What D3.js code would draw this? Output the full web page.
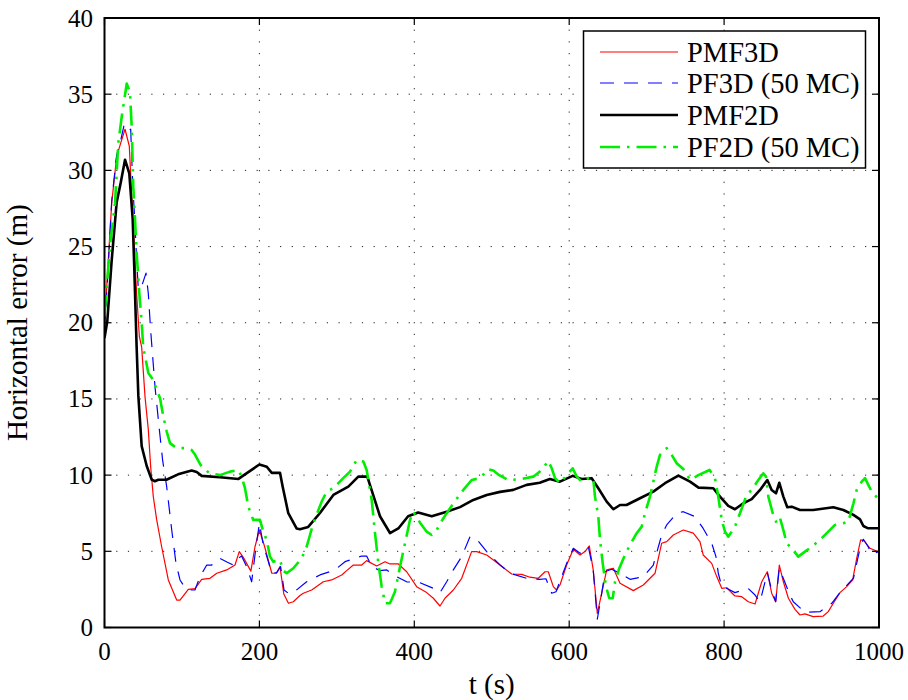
<!DOCTYPE html>
<html>
<head>
<meta charset="utf-8">
<script src="https://cdn.jsdelivr.net/npm/d3@7"></script>
<style>
  html, body { margin: 0; padding: 0; background: #fff; }
  svg { display: block; }
</style>
</head>
<body>
<svg id="chart" width="908" height="700" font-family="'Liberation Serif', 'DejaVu Serif', serif"></svg>
<script>
// ---------- data ----------
const xTicks = [0, 200, 400, 600, 800, 1000];
const yTicks = [0, 5, 10, 15, 20, 25, 30, 35, 40];
const xLabel = "t (s)";
const yLabel = "Horizontal error (m)";
const seriesNames = ["PMF3D", "PF3D (50 MC)", "PMF2D", "PF2D (50 MC)"];

const pmf3d = [[0,19.8],[3.6,23.0],[9.3,27.85],[15.7,30.9],[21,31.8],[26.5,32.7],[32,31.6],[35,28.5],[37.2,26.3],[41.5,21.9],[45,19.1],[48,18.4],[52.3,15.15],[56.6,12.97],[59.6,10.56],[63,8.59],[67.4,7.06],[73.8,5.3],[82.4,3.12],[93.2,1.8],[97.5,1.8],[108.2,2.5],[116.8,2.55],[125.5,3.16],[136.2,3.23],[145,3.56],[157.8,3.78],[168.5,4.1],[174,4.98],[179.2,4.6],[189,3.7],[194.3,5.3],[200,6.4],[206.5,5.35],[216,3.56],[222,3.56],[226.6,4.0],[231.5,2.2],[237.5,1.59],[243.8,1.69],[252.4,2.1],[256.7,2.25],[267.5,2.46],[282.5,3.0],[293.3,3.12],[306.3,3.45],[312.7,3.73],[321.3,4.1],[332,4.1],[338.5,4.39],[351.4,4.04],[362.2,4.32],[368.6,4.17],[379.4,4.17],[390.2,3.66],[403,2.68],[416,2.29],[424.6,1.92],[433.2,1.41],[439.6,1.92],[450.4,2.46],[461.2,3.23],[474,4.98],[480.6,4.98],[493.5,4.76],[510.7,4.1],[525.7,3.51],[538.7,3.49],[549.3,3.3],[560,3.23],[568.8,3.66],[573,3.66],[579.5,2.68],[583.8,2.46],[588.1,2.79],[596.7,4.1],[605.3,5.13],[614,4.76],[620.4,4.98],[626,5.35],[631,3.78],[636.3,0.93],[642,2.25],[648.4,3.78],[657,3.89],[665.6,2.9],[682.8,2.42],[695.7,2.79],[710.8,3.56],[719.4,5.53],[725.9,5.64],[734.4,6.07],[747.3,6.4],[760.2,6.19],[768.8,5.64],[773,4.76],[784,4.21],[790.5,3.34],[797,2.57],[803.4,2.61],[814,2.07],[822.7,2.02],[831.3,1.69],[840,1.54],[848.6,3.0],[855.8,3.66],[861.4,2.25],[866.6,1.69],[871.3,4.1],[876.5,3.0],[883,1.92],[891.5,1.19],[898,0.82],[904.4,0.89],[915,0.71],[928,0.75],[934.5,1.04],[941,1.59],[949.6,2.29],[958.3,2.68],[966,3.12],[971.2,4.54],[976.3,5.75],[980.6,5.7],[988.4,5.2],[1000,4.95]];

const pf3d = [[0,19.5],[3.6,22.5],[9.3,28],[15.7,31],[21,32],[25,32.9],[29,32.5],[33.8,32.7],[36.5,29],[39.4,26.5],[41.5,24.1],[43.7,22.2],[48,22.4],[53.6,23.26],[56.6,21.9],[59.6,19.5],[65.2,15.8],[70.8,13],[75,11.0],[80.3,9.24],[86.8,6.4],[92.3,4.21],[97.5,3.12],[104,2.6],[112.5,2.46],[116.8,2.46],[123.3,3.34],[132,4.1],[138.4,4.1],[145,4.43],[149,4.54],[158,4.3],[166.3,4.1],[172.8,4.54],[177,4.69],[183.6,3.99],[190,3.0],[195.6,5.3],[200,6.84],[205,5.42],[209.4,4.69],[216,3.56],[222.3,3.6],[227.4,4.0],[231.8,2.46],[238.6,2.2],[243.8,2.29],[261,3.0],[278.2,3.45],[297.6,3.78],[310.5,4.32],[332,4.69],[338.5,4.69],[345,4.0],[355.7,3.73],[364.4,3.78],[372.9,3.45],[390.2,3.0],[407.4,2.94],[424.6,2.57],[433.2,2.29],[441.8,3.0],[450.4,3.78],[461.2,4.65],[471.9,5.96],[480.6,5.79],[493.5,4.98],[510.7,4.1],[523.6,3.56],[545,3.23],[562,3.16],[570,3.2],[577.4,2.25],[583,2.35],[596.7,4.21],[605.3,5.2],[614,4.87],[624.7,5.3],[631,3.78],[636.3,0.54],[642,2.25],[646.2,3.66],[654.8,3.82],[665.6,3.56],[678.5,3.16],[695.7,3.34],[708.6,4.1],[719.4,6.07],[725.9,6.73],[738.8,7.5],[747.3,7.6],[762.4,7.28],[773,6.5],[784,5.53],[789.5,4.65],[792.5,3.56],[797,2.68],[803.4,2.57],[814,2.29],[831,2.57],[840,2.13],[846.4,1.69],[855.8,3.6],[861.4,2.46],[866.6,1.69],[871.3,3.89],[877.3,3.12],[885,2.13],[889.3,1.69],[904.4,1.0],[923.8,1.04],[939,1.59],[949.6,2.29],[967,3.23],[975.5,5.2],[979.8,5.79],[986,5.3],[990.6,4.82],[1000,4.98]];

const pmf2d = [[0,19.0],[3.6,20.1],[9.3,24.1],[15.7,27.9],[21,29.2],[26.5,30.7],[32,29.8],[36.4,26.8],[38.5,23.5],[41.5,18.4],[43.7,15.2],[48,11.9],[54.5,10.6],[61,9.7],[65,9.6],[69.5,9.7],[80,9.7],[95,10.05],[112.5,10.3],[119,10.2],[125.5,9.95],[149,9.86],[173,9.75],[180,10.0],[200,10.7],[209.5,10.55],[216,10.15],[226.6,10.15],[230,9.25],[237.3,7.5],[248,6.5],[252.4,6.45],[263,6.6],[278,7.5],[295.5,8.7],[314.8,9.25],[327.7,9.9],[339.3,9.9],[345,9.0],[355.7,7.3],[368.6,6.2],[379.4,6.5],[392,7.3],[405,7.55],[422.5,7.3],[441.8,7.6],[459,7.9],[476.2,8.37],[493.5,8.7],[510.7,8.9],[527.8,9.03],[545,9.36],[562,9.5],[575,9.75],[588,9.57],[604.5,9.95],[616,9.75],[629,9.8],[637.6,9.14],[648.4,8.26],[657,7.76],[665.6,8.04],[674,8.04],[691.4,8.48],[708.6,8.92],[723.7,9.47],[741,9.97],[756,9.57],[767,9.18],[786,9.14],[794.7,8.59],[805.4,7.98],[814,7.76],[824.8,8.15],[835.6,8.42],[846.4,9.03],[855.8,9.68],[861.4,9.03],[867,8.81],[871.3,9.5],[876.5,8.59],[881.6,7.89],[887.3,7.93],[898,7.71],[915,7.71],[941,7.89],[954,7.71],[967,7.39],[975.5,7.1],[979.8,6.66],[986,6.51],[1000,6.51]];

const pf2d = [[0,20.5],[7,25],[13.6,27.85],[17.8,31.8],[22.2,33.5],[28.7,35.7],[32.9,35.1],[35.1,32.9],[37.2,28.9],[39.4,26.8],[41.5,24.6],[45,21.9],[48,20.0],[50,18.4],[56.6,16.7],[63,16.25],[67.4,15.6],[71.7,15.05],[76,13.84],[80.3,12.86],[84.6,12.1],[93.2,11.77],[106,11.77],[112.5,11.65],[116.8,11.35],[124,10.67],[135,10.14],[149,10.0],[162,10.23],[172.8,10.34],[177,9.9],[181.4,9.14],[185.7,7.93],[192,7.06],[200.8,7.06],[205,6.29],[209.4,5.75],[213.7,4.65],[218,4.32],[226.6,4.43],[230.9,3.73],[235.2,3.56],[243.8,3.89],[254.6,4.54],[261,5.3],[269.6,6.84],[280.4,8.26],[286.9,8.92],[295.4,9.14],[308.3,9.8],[317,10.23],[325.6,11.0],[334.2,10.89],[338.5,10.34],[345,8.37],[349.3,6.19],[353.6,4.21],[357.9,2.68],[362.2,1.59],[368.6,1.59],[375,2.35],[381.6,4.0],[388,5.53],[394.4,7.06],[398.7,7.6],[407.4,6.88],[416,6.29],[422.5,6.07],[428.9,6.4],[437.5,7.17],[450.4,8.15],[463.3,9.03],[474.1,9.68],[484.8,9.8],[495.6,10.39],[502,10.3],[508.5,10.04],[521.4,9.68],[536.5,9.73],[553.7,9.9],[564.5,10.34],[573,10.93],[577.4,10.45],[581.7,9.8],[588.1,9.47],[596.7,10.0],[604.5,10.45],[609.7,9.9],[616.1,9.57],[624.7,9.8],[631,9.8],[633.3,8.59],[637.6,7.28],[639.8,5.75],[643.3,4.21],[647.5,2.68],[651.8,1.92],[656.2,1.92],[659.2,3.0],[664.7,3.89],[672,4.76],[678.5,5.42],[687.1,6.19],[693.6,6.62],[697.9,7.5],[704.3,8.59],[708.6,9.57],[713,10.56],[717.2,11.33],[725.9,11.77],[732.3,11.33],[738.8,10.78],[747.3,10.4],[756,9.7],[760.2,9.8],[766.7,10.0],[781.3,10.34],[788.2,9.8],[792.5,8.59],[796.9,7.06],[801.2,6.29],[805.4,5.96],[814,6.62],[820.5,7.5],[829.2,8.7],[835.6,9.03],[844.2,9.68],[850.6,10.12],[854.1,9.9],[857.1,8.59],[862.8,7.5],[868,6.84],[872.2,7.17],[876.5,6.4],[880.8,5.53],[887.3,5.2],[895.8,4.65],[904.4,4.98],[913.1,5.3],[923.8,5.75],[934.5,6.29],[943.2,6.73],[954,6.84],[960.4,6.95],[967,8.15],[971.2,9.03],[977.7,9.57],[982,9.8],[986.2,9.36],[990.6,8.92],[1000,8.4]];

// ---------- layout ----------
const FONT = "'Liberation Serif', 'DejaVu Serif', serif";
const svg = d3.select("#chart");
const L = 104.5, R = 879, T = 18, B = 627.5;
const x = d3.scaleLinear().domain([0, 1000]).range([L, R]);
const y = d3.scaleLinear().domain([0, 40]).range([B, T]);

svg.append("defs").append("clipPath").attr("id", "clip")
  .append("rect").attr("x", L).attr("y", T).attr("width", R - L).attr("height", B - T);

// grid
const grid = svg.append("g");
xTicks.filter(d => d > 0 && d < 1000).forEach(d => {
  grid.append("line").attr("x1", x(d)).attr("x2", x(d)).attr("y1", B).attr("y2", T)
    .attr("stroke", "#222").attr("stroke-width", 1).attr("stroke-dasharray", "1.2,10.5");
});
yTicks.filter(d => d > 0 && d < 40).forEach(d => {
  grid.append("line").attr("x1", L).attr("x2", R).attr("y1", y(d)).attr("y2", y(d))
    .attr("stroke", "#222").attr("stroke-width", 1).attr("stroke-dasharray", "1.2,10.5");
});

// series
const line = d3.line().x(d => x(d[0])).y(d => y(d[1]));
const plot = svg.append("g").attr("clip-path", "url(#clip)");
const styles = [
  { data: pmf3d, color: "#ff0000", width: 1.2, dash: null },
  { data: pf3d,  color: "#0000ff", width: 1.2, dash: "14,10" },
  { data: pmf2d, color: "#000000", width: 2.6, dash: null },
  { data: pf2d,  color: "#00ee00", width: 2.6, dash: "20,7,2.5,7" }
];
styles.forEach(s => {
  plot.append("path").datum(s.data).attr("d", line)
    .attr("fill", "none").attr("stroke", s.color).attr("stroke-width", s.width)
    .attr("stroke-linejoin", "round")
    .attr("stroke-dasharray", s.dash);
});

// axes frame + ticks
const axes = svg.append("g");
const tickLen = 7;
xTicks.forEach(d => {
  axes.append("line").attr("x1", x(d)).attr("x2", x(d)).attr("y1", B).attr("y2", B - tickLen).attr("stroke", "#000").attr("stroke-width", 1.2);
  axes.append("line").attr("x1", x(d)).attr("x2", x(d)).attr("y1", T).attr("y2", T + tickLen).attr("stroke", "#000").attr("stroke-width", 1.2);
  axes.append("text").attr("x", x(d)).attr("y", 660).attr("text-anchor", "middle")
    .attr("font-family", FONT).attr("font-size", 25).text(d);
});
yTicks.forEach(d => {
  axes.append("line").attr("x1", L).attr("x2", L + tickLen).attr("y1", y(d)).attr("y2", y(d)).attr("stroke", "#000").attr("stroke-width", 1.2);
  axes.append("line").attr("x1", R).attr("x2", R - tickLen).attr("y1", y(d)).attr("y2", y(d)).attr("stroke", "#000").attr("stroke-width", 1.2);
  axes.append("text").attr("x", 93).attr("y", y(d)).attr("dy", "0.34em").attr("text-anchor", "end")
    .attr("font-family", FONT).attr("font-size", 25).text(d);
});
axes.append("rect").attr("x", L).attr("y", T).attr("width", R - L).attr("height", B - T)
  .attr("fill", "none").attr("stroke", "#000").attr("stroke-width", 2);

// axis labels
svg.append("text").attr("x", (L + R) / 2).attr("y", 694).attr("text-anchor", "middle")
  .attr("font-family", FONT).attr("font-size", 29).text(xLabel);
svg.append("text").attr("transform", `translate(27,${(T + B) / 2}) rotate(-90)`)
  .attr("text-anchor", "middle").attr("font-family", FONT).attr("font-size", 29).text(yLabel);

// legend
const lg = svg.append("g");
lg.append("rect").attr("x", 583.5).attr("y", 31).attr("width", 282).attr("height", 137)
  .attr("fill", "#fff").attr("stroke", "#000").attr("stroke-width", 1.5);
const rowsY = [52, 83, 115, 147];
styles.forEach((s, i) => {
  lg.append("line").attr("x1", 600).attr("x2", 678).attr("y1", rowsY[i]).attr("y2", rowsY[i])
    .attr("stroke", s.color).attr("stroke-width", s.width).attr("stroke-dasharray", s.dash);
  lg.append("text").attr("x", 687).attr("y", rowsY[i]).attr("dy", "0.34em")
    .attr("font-family", FONT).attr("font-size", 28.5).text(seriesNames[i]);
});
</script>
</body>
</html>
